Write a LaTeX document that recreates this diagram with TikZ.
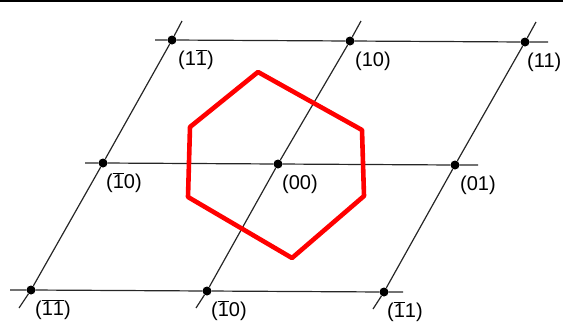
\documentclass[tikz,border=0pt]{standalone}
\usepackage{fontspec}
\setmainfont{Liberation Sans}
\newcommand\ob[1]{\ensuremath{\overline{\mbox{#1}}}}
\begin{document}
\begin{tikzpicture}[x=1pt,y=-1pt,
  latt/.style={line width=1.2pt,black!85},
  dot/.style={circle,fill=black,inner sep=0pt,minimum size=9pt},
  lab/.style={font=\fontsize{20}{20}\selectfont,inner sep=0pt,anchor=base west},
  hexa/.style={red,line width=4.6pt,line join=round,line cap=round}]
\useasboundingbox (0,0) rectangle (563,325);
\draw[line width=2pt] (0,0.5) -- (563,0.5);
% lattice points
\node[dot] (p1m) at (172,40) {};
\node[dot] (p10) at (350,41) {};
\node[dot] (p11) at (525,42) {};
\node[dot] (pm0) at (103,163) {};
\node[dot] (p00) at (278,164) {};
\node[dot] (p01) at (455,165) {};
\node[dot] (pmm) at (31,290) {};
\node[dot] (pm0b) at (207,291) {};
\node[dot] (pm1) at (384,292) {};
% line end coordinates
\coordinate (h1a) at (155,40); \coordinate (h1b) at (548,42);
\coordinate (h2a) at (85,163); \coordinate (h2b) at (478,165);
\coordinate (h3a) at (10,290); \coordinate (h3b) at (403,292);
\coordinate (s1a) at (182,21); \coordinate (s1b) at (19,308);
\coordinate (s2a) at (361,21); \coordinate (s2b) at (196,308);
\coordinate (s3a) at (536,22); \coordinate (s3b) at (373,309);
\draw[latt] (h1a) -- (p1m) -- (p10) -- (p11) -- (h1b);
\draw[latt] (h2a) -- (pm0) -- (p00) -- (p01) -- (h2b);
\draw[latt] (h3a) -- (pmm) -- (pm0b) -- (pm1) -- (h3b);
\draw[latt] (s1a) -- (p1m) -- (pm0) -- (pmm) -- (s1b);
\draw[latt] (s2a) -- (p10) -- (p00) -- (pm0b) -- (s2b);
\draw[latt] (s3a) -- (p11) -- (p01) -- (pm1) -- (s3b);
% labels
\node[lab] at (178,65) {(1\ob{1})};
\node[lab] at (355,66) {(10)};
\node[lab] at (527,67) {(11)};
\node[lab] at (106,188) {(\ob{1}0)};
\node[lab] at (282,189) {(00)};
\node[lab] at (460,190) {(01)};
\node[lab] at (35,315) {(\ob{1}\ob{1})};
\node[lab] at (211,316) {(\ob{1}0)};
\node[lab] at (387,317) {(\ob{1}1)};
% red hexagon
\draw[hexa] (258,72) -- (362,130) -- (364,196) -- (292,258) -- (188,197) -- (190,127) -- cycle;
\end{tikzpicture}
\end{document}
